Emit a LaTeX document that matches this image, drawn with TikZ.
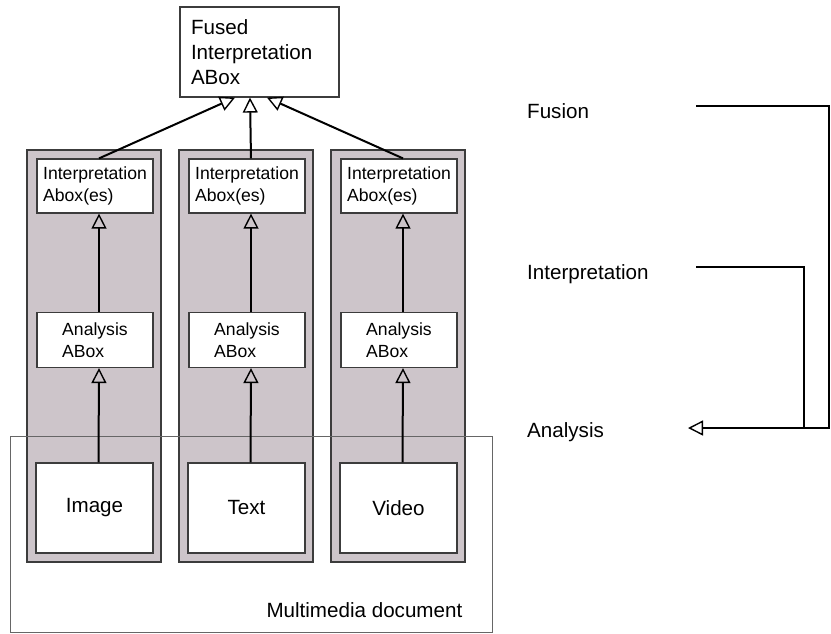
\documentclass[tikz,border=0pt]{standalone}
\usepackage{fontspec}
\setmainfont{Liberation Sans}
\usetikzlibrary{arrows.meta}
\definecolor{panelgray}{RGB}{205,197,202}
\definecolor{edgegray}{RGB}{60,60,60}
\tikzset{
	panel/.style={draw=edgegray, line width=1.2pt, fill=panelgray, minimum width=134pt, minimum height=412pt, inner sep=0pt},
	abox/.style={draw=edgegray, line width=1.2pt, fill=white, minimum width=116pt, minimum height=54pt, inner sep=0pt, align=left, font=\fontsize{17.6pt}{22pt}\selectfont},
	srcbox/.style={abox, minimum width=117pt, minimum height=90pt, font=\fontsize{20.6pt}{25pt}\selectfont},
	bigtext/.style={inner sep=0pt, anchor=base west, font=\fontsize{20.6pt}{25pt}\selectfont},
	flow/.style={line width=2pt, -{Triangle[open, length=15pt, width=15pt, line width=1.4pt]}},
	link/.style={line width=2pt}
}
\begin{document}
\begin{tikzpicture}[x=1pt, y=-1pt]
	%\draw[help lines] (0,0) grid (831,633);
	\useasboundingbox (0,0) rectangle (831,633);

	\node[abox, minimum width=159pt, minimum height=90pt, text width=137pt, inner xsep=11pt, font=\fontsize{20.6pt}{25pt}\selectfont] (fused) at (259.5,52) {Fused\\Interpretation\\ABox};%top

	\node[panel] (pan1) at (94,356) {};%panels
	\node[panel] (pan2) at (246,356) {};%panels
	\node[panel] (pan3) at (398,356) {};%panels

	\node[abox] (int1) at (95,186) {Interpretation\\Abox(es)};
	\node[abox] (int2) at (247,186) {Interpretation\\Abox(es)};
	\node[abox] (int3) at (399,186) {Interpretation\\Abox(es)};

	\node[abox, minimum height=55pt] (ana1) at (95,340) {Analysis\\ABox};
	\node[abox, minimum height=55pt] (ana2) at (247,340) {Analysis\\ABox};
	\node[abox, minimum height=55pt] (ana3) at (399,340) {Analysis\\ABox};

	\node[srcbox] (img) at (94.5,508) {Image};
	\node[srcbox] (txt) at (246.5,508) {Text};
	\node[srcbox] (vid) at (398.5,508) {Video};

	\node[draw=gray!80!black, line width=1pt, minimum width=482pt, minimum height=196pt, inner sep=0pt] (doc) at (251,534) {};%document
	\node[bigtext, anchor=base east] (doclabel) at ([xshift=-30pt, yshift=15pt]doc.south east) {Multimedia document};

	\draw[flow] ([xshift=4pt]img.north) -- ([xshift=4pt]ana1.south);
	\draw[flow] ([xshift=4pt]txt.north) -- ([xshift=4pt]ana2.south);
	\draw[flow] ([xshift=4pt]vid.north) -- ([xshift=4pt]ana3.south);

	\draw[flow] ([xshift=4pt]ana1.north) -- ([xshift=4pt]int1.south);
	\draw[flow] ([xshift=4pt]ana2.north) -- ([xshift=4pt]int2.south);
	\draw[flow] ([xshift=4pt]ana3.north) -- ([xshift=4pt]int3.south);

	\draw[flow] ([xshift=4pt]int1.north) -- ([xshift=-24.5pt]fused.south);
	\draw[flow] ([xshift=4pt]int2.north) -- ([xshift=-9.5pt]fused.south);
	\draw[flow] ([xshift=4pt]int3.north) -- ([xshift=7.5pt]fused.south);

	\node[bigtext] (fusion) at (527,118) {Fusion};%levels
	\node[bigtext] (interp) at (527,279) {Interpretation};
	\node[bigtext] (analysis) at (527,437) {Analysis};

	\coordinate (fusstart) at (696,106);
	\coordinate (intstart) at (696,267);
	\coordinate (anatip) at (688,428);
	\coordinate (fusturn) at (829,106);
	\coordinate (intturn) at (804,267);

	\draw[flow] (fusstart) -- (fusturn) |- (anatip);
	\draw[link] (intstart) -- (intturn) -- (intturn |- anatip);
\end{tikzpicture}
\end{document}
